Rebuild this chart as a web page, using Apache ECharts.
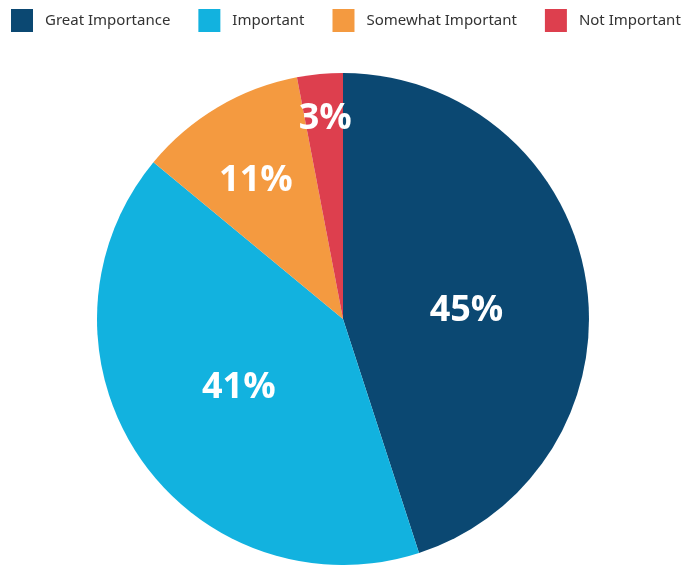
<!DOCTYPE html>
<html>
<head>
<meta charset="utf-8">
<script src="https://cdn.jsdelivr.net/npm/echarts@6/dist/echarts.min.js"></script>
<style>html,body{margin:0;padding:0;background:#fff;}#chart{width:699px;height:565px;}</style>
</head>
<body>
<div id="chart"></div>
<script>
const categories = ['Great Importance', 'Important', 'Somewhat Important', 'Not Important'];
const values = [45, 41, 11, 3];
const colors = ['#0b4872', '#12b2df', '#f49a40', '#dd3f4e'];
const labelOffsets = [[-1, 11], [0, -2], [-23, -30], [-6, -75]];

const chart = echarts.init(document.getElementById('chart'));
chart.setOption({
  animation: false,
  legend: {
    left: 11, top: 9, padding: 0,
    itemWidth: 22, itemHeight: 23, itemGap: 28,
    icon: 'rect',
    textStyle: { fontFamily: 'Noto Sans', fontSize: 15, color: '#333', padding: [0, 0, 0, 7] },
    data: categories
  },
  series: [{
    type: 'pie',
    center: [343, 319],
    radius: [0, 246],
    startAngle: 90,
    clockwise: true,
    label: {
      position: 'inside',
      formatter: '{c}%',
      color: '#fff',
      fontFamily: 'Open Sans',
      fontWeight: 'bold',
      fontSize: 36
    },
    labelLine: { show: false },
    itemStyle: { borderWidth: 0 },
    emphasis: { disabled: true },
    data: categories.map((c, i) => ({
      name: c, value: values[i],
      itemStyle: { color: colors[i] },
      label: { offset: labelOffsets[i] }
    }))
  }]
});
</script>
</body>
</html>
